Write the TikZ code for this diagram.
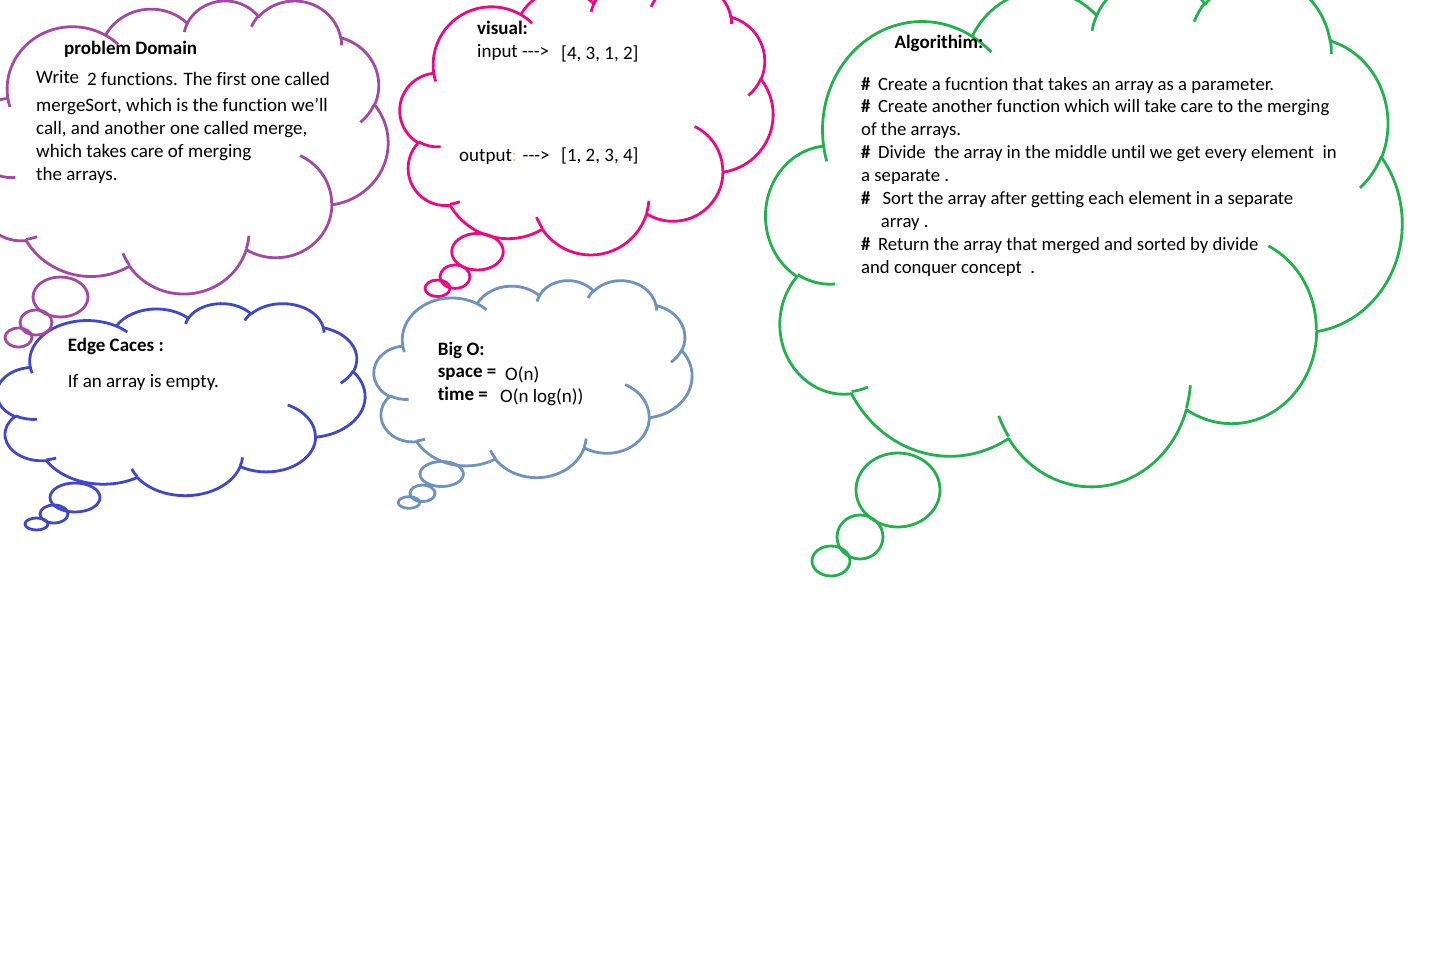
\documentclass[tikz,border=0pt]{standalone}
\usepackage{fontspec}
\setmainfont[Ligatures={NoCommon}]{Carlito}
\definecolor{cpur}{RGB}{163,73,164}
\definecolor{cpink}{RGB}{236,10,130}
\definecolor{cblue}{RGB}{63,72,204}
\definecolor{csteel}{RGB}{112,146,190}
\definecolor{cgreen}{RGB}{34,177,76}
\definecolor{colon}{RGB}{245,190,120}
% elliptical arc in DrawingML style: wR, hR, start angle, sweep (visual angles, y down)
\newcommand\ca[4]{\pgfextra{%
 \pgfmathparse{atan2((#1)*sin(#3),(#2)*cos(#3))}\xdef\cloudtA{\pgfmathresult}%
 \pgfmathparse{atan2((#1)*sin((#3)+(#4)),(#2)*cos((#3)+(#4)))}\xdef\cloudtB{\pgfmathresult}%
 \pgfmathparse{mod(\cloudtB-(\cloudtA)+720,360)}\xdef\cloudd{\pgfmathresult}%
 } arc[start angle={0-(\cloudtA)}, delta angle={0-(\cloudd)}, x radius=#1pt, y radius=#2pt]}
% cloud: style, x0, y0, W, H
\newcommand\cloudshape[5]{%
 \begin{scope}[shift={(#2,#3)}, xscale={#4/432}, yscale={#5/432}]
  \draw[#1] (39.00,143.70) \ca{67.53}{91.90}{-190.4875}{123.7805}
   \ca{53.33}{72.67}{-144.1024}{89.9452}
   \ca{43.65}{59.45}{-145.8079}{99.7230}
   \ca{48.57}{65.95}{-130.9861}{117.2417}
   \ca{53.33}{72.73}{-78.7089}{109.0269}
   \ca{67.75}{92.20}{-46.2673}{130.2690}
   \ca{57.85}{78.67}{0.6250}{114.0333}
   \ca{67.52}{92.15}{22.4516}{115.1726}
   \ca{77.20}{105.43}{66.2426}{75.7110}
   \ca{43.60}{59.18}{-274.9421}{146.7356}
   \ca{43.45}{59.45}{-246.8285}{152.5189} -- cycle;
  \draw[#1] (46.93,261.77) \ca{43.45}{59.45}{86.7420}{26.4295};
  \draw[#1] (69.28,348.99) \ca{43.60}{59.18}{73.6105}{11.4475};
  \draw[#1] (164.78,390.90) \ca{67.52}{92.15}{137.6242}{14.0811};
  \draw[#1] (288.27,347.51) \ca{67.52}{92.15}{6.4533}{15.9984};
  \draw[#1] (341.29,229.54) \ca{57.85}{78.67}{-70.2924}{70.9174};
  \draw[#1] (417.98,153.54) \ca{53.33}{72.73}{30.3180}{27.7515};
  \draw[#1] (383.24,54.26) \ca{48.57}{65.95}{-13.7443}{14.8589};
  \draw[#1] (290.78,39.52) \ca{48.57}{65.95}{-149.1815}{18.1937};
  \draw[#1] (221.41,47.20) \ca{43.65}{59.45}{-163.4943}{17.6922};
  \draw[#1] (140.00,51.92) \ca{67.53}{91.90}{-66.7070}{12.3194};
  \draw[#1] (41.27,157.89) \ca{67.53}{91.90}{157.6544}{11.8582};
 \end{scope}}
\tikzset{
 cl/.style={draw=#1, line width=2.8pt, line join=round},
 txt/.style={anchor=base west, inner sep=0pt, font=\fontsize{19}{23}\selectfont},
 hd/.style={txt, font=\fontsize{19}{23}\selectfont\bfseries},
 gtxt/.style={anchor=base west, inner sep=0pt, font=\fontsize{18.7}{23}\selectfont}
}
\newcommand\hs{\textbf{\#}\hspace{7.5pt}}
\begin{document}
\begin{tikzpicture}[x=1pt,y=-1pt]
\useasboundingbox (0,0) rectangle (1443,964);
\clip (0,0) rectangle (1443,964);
\fill[white] (0,0) rectangle (1443,964);

% clouds
\cloudshape{cl=cpur}{-30}{0}{418}{293}
\cloudshape{cl=cblue}{-3}{303}{368}{192}
\cloudshape{cl=cpink}{400}{-18}{373}{272}
\cloudshape{cl=csteel}{374}{280}{318}{197}
\cloudshape{cl=cgreen}{766}{-25}{636}{510}

% tails
\draw[cl=cpur] (60.5,297) ellipse [x radius=27.5pt, y radius=20pt];
\draw[cl=cpur] (36,322.5) ellipse [x radius=16pt, y radius=12.5pt];
\draw[cl=cpur] (18.5,337.5) ellipse [x radius=13.5pt, y radius=9.5pt];
\draw[cl=cblue] (75,497.5) ellipse [x radius=25pt, y radius=14.5pt];
\draw[cl=cblue] (54,514) ellipse [x radius=14pt, y radius=9pt];
\draw[cl=cblue] (36.5,524) ellipse [x radius=11.5pt, y radius=6pt];
\draw[cl=cpink] (477.5,251.7) ellipse [x radius=25.8pt, y radius=18.3pt];
\draw[cl=cpink] (455,276.7) ellipse [x radius=15pt, y radius=11.7pt];
\draw[cl=cpink] (437.5,288.3) ellipse [x radius=12.5pt, y radius=8.3pt];
\draw[cl=csteel] (441.7,474) ellipse [x radius=21.7pt, y radius=12.5pt];
\draw[cl=csteel] (422.5,493.3) ellipse [x radius=12.5pt, y radius=8.3pt];
\draw[cl=csteel] (409,502.5) ellipse [x radius=10.8pt, y radius=5.8pt];
\draw[cl=cgreen] (898,490) ellipse [x radius=42pt, y radius=37pt];
\draw[cl=cgreen] (860,537) ellipse [x radius=23pt, y radius=22pt];
\draw[cl=cgreen] (831,561) ellipse [x radius=19pt, y radius=15pt];

% problem domain
\node[hd] (pdh) at (64,54) {problem Domain};
\node[txt] (pd1a) at (36,83.3) {Write};
\node[txt] (pd1b) at (87,85) {2 functions. The first one called};
\node[txt] (pd2) at (36,111.7) {mergeSort, which is the function we’ll};
\node[txt] (pd3) at (36,134.7) {call, and another one called merge,};
\node[txt] (pd4) at (36,157.5) {which takes care of merging};
\node[txt] (pd5) at (36,180.3) {the arrays.};

% visual
\node[hd] (vh) at (477,34) {visual:};
\node[txt] (vin) at (477,57.5) {input {-}{-}{-}>};
\node[txt] (vinv) at (561,59) {[4, 3, 1, 2]};
\node[txt] (vout) at (459,161.7) {output\textcolor{colon}{:} {-}{-}{-}>};
\node[txt] (voutv) at (561,161.7) {[1, 2, 3, 4]};

% edge cases
\node[hd] (eh) at (67.7,351.7) {Edge Caces :};
\node[txt] (e1) at (67.7,387.7) {If an array is empty.};

% big O
\node[hd] (bh) at (437.7,355) {Big O:};
\node[hd] (bs) at (437.7,377.3) {space =};
\node[txt] (bsv) at (505,380.7) {O(n)};
\node[hd] (bt) at (437.7,400) {time =};
\node[txt] (btv) at (500,402.7) {O(n log(n))};

% algorithm
\node[hd] (ah) at (894.3,48.3) {Algorithim:};
\node[gtxt] (a1) at (861,90) {\hs Create a fucntion that takes an array as a parameter.};
\node[gtxt] (a2) at (861,112.8) {\hs Create another function which will take care to the merging};
\node[gtxt] (a3) at (861,135.7) {of the arrays.};
\node[gtxt] (a4) at (861,158.6) {\hs Divide~ the array in the middle until we get every element~ in};
\node[gtxt] (a5) at (861,181.5) {a separate .};
\node[gtxt] (a6) at (861,204.4) {\textbf{\#}\hspace{12pt}Sort the array after getting each element in a separate};
\node[gtxt] (a7) at (880.7,227.3) {array .};
\node[gtxt] (a8) at (861,250.2) {\hs Return the array that merged and sorted by divide};
\node[gtxt] (a9) at (861,273.1) {and conquer concept~ .};
\end{tikzpicture}
\end{document}
